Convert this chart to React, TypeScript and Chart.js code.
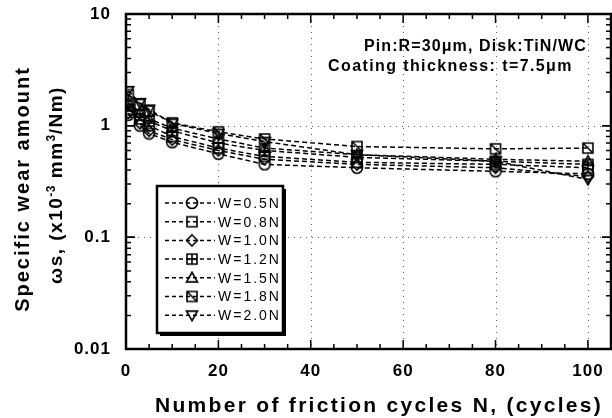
import React, { useEffect, useRef } from "react";
import { Chart, registerables } from "chart.js";
Chart.register(...registerables);

const cycles = [0.5, 3, 5, 10, 20, 30, 50, 80, 100];
const w05 = [1.25, 1.0, 0.85, 0.71, 0.56, 0.45, 0.42, 0.39, 0.37];
const w08 = [1.4, 1.15, 1.0, 0.8, 0.63, 0.53, 0.47, 0.45, 0.42];
const w10 = [1.3, 1.05, 0.9, 0.75, 0.6, 0.5, 0.45, 0.42, 0.35];
const w12 = [1.5, 1.25, 1.1, 0.9, 0.7, 0.6, 0.52, 0.48, 0.45];
const w15 = [1.6, 1.3, 1.15, 0.95, 0.76, 0.63, 0.55, 0.5, 0.48];
const w18 = [1.9, 1.55, 1.35, 1.06, 0.88, 0.76, 0.65, 0.62, 0.63];
const w20 = [2.05, 1.6, 1.4, 1.05, 0.85, 0.72, 0.55, 0.48, 0.33];
const seriesValues = [w05, w08, w10, w12, w15, w18, w20];
const seriesLabels = ["W=0.5N", "W=0.8N", "W=1.0N", "W=1.2N", "W=1.5N", "W=1.8N", "W=2.0N"];
const markerKinds = ["circle", "square", "diamond", "plusSquare", "triangle", "diagSquare", "downTriangle"];
const yTickValues = [0.01, 0.1, 1, 10];
const yTickLabels = ["0.01", "0.1", "1", "10"];
const xTickValues = [0, 20, 40, 60, 80, 100];
const yTitle1 = "Specific wear amount";
const xTitle = "Number of friction cycles N, (cycles)";
const note1 = "Pin:R=30\u03bcm, Disk:TiN/WC";
const note2 = "Coating thickness: t=7.5\u03bcm";

const FONT = "'Liberation Sans', Arial, sans-serif";

function makeMarker(kind: string, size = 14): HTMLCanvasElement {
  const c = document.createElement("canvas");
  c.width = size;
  c.height = size;
  const g = c.getContext("2d")!;
  g.strokeStyle = "#000";
  g.lineWidth = 1.6;
  const m = size / 2;
  const r = size / 2 - 1.5;
  g.beginPath();
  if (kind === "circle") {
    g.arc(m, m, r, 0, Math.PI * 2);
  } else if (kind === "square") {
    g.rect(m - r + 0.5, m - r + 0.5, 2 * r - 1, 2 * r - 1);
  } else if (kind === "diamond") {
    g.moveTo(m, m - r);
    g.lineTo(m + r, m);
    g.lineTo(m, m + r);
    g.lineTo(m - r, m);
    g.closePath();
  } else if (kind === "plusSquare") {
    g.rect(m - r + 0.5, m - r + 0.5, 2 * r - 1, 2 * r - 1);
    g.moveTo(m, m - r + 0.5);
    g.lineTo(m, m + r - 0.5);
    g.moveTo(m - r + 0.5, m);
    g.lineTo(m + r - 0.5, m);
  } else if (kind === "triangle") {
    g.moveTo(m, m - r);
    g.lineTo(m + r, m + r * 0.75);
    g.lineTo(m - r, m + r * 0.75);
    g.closePath();
  } else if (kind === "diagSquare") {
    g.rect(m - r + 0.5, m - r + 0.5, 2 * r - 1, 2 * r - 1);
    g.moveTo(m - r + 0.5, m - r + 0.5);
    g.lineTo(m + r - 0.5, m + r - 0.5);
  } else {
    g.moveTo(m, m + r);
    g.lineTo(m + r, m - r * 0.75);
    g.lineTo(m - r, m - r * 0.75);
    g.closePath();
  }
  g.stroke();
  return c;
}

function drawSpaced(ctx: CanvasRenderingContext2D, text: string, x: number, y: number, spacing: number) {
  (ctx as any).letterSpacing = spacing + "px";
  ctx.fillText(text, x, y);
  return ctx.measureText(text).width;
}

export default function App() {
  const ref = useRef<HTMLCanvasElement>(null);
  useEffect(() => {
    const markers = markerKinds.map((k) => makeMarker(k));
    const decor = {
      id: "decor",
      beforeDraw(chart: any) {
        (chart.ctx as any).letterSpacing = "1px";
      },
      beforeDatasetsDraw(chart: any) {
        const { ctx, chartArea: a, scales } = chart;
        ctx.save();
        ctx.strokeStyle = "#666";
        ctx.lineWidth = 1;
        ctx.setLineDash([1, 5]);
        for (const v of xTickValues.slice(1)) {
          const px = Math.round(scales.x.getPixelForValue(v)) + 0.5;
          ctx.beginPath();
          ctx.moveTo(px, a.top);
          ctx.lineTo(px, a.bottom);
          ctx.stroke();
        }
        for (const v of [0.1, 1]) {
          const py = Math.round(scales.y.getPixelForValue(v)) + 0.5;
          ctx.beginPath();
          ctx.moveTo(a.left, py);
          ctx.lineTo(a.right, py);
          ctx.stroke();
        }
        ctx.restore();
      },
      afterDraw(chart: any) {
        const { ctx, chartArea: a, scales } = chart;
        ctx.save();
        ctx.setLineDash([]);
        ctx.strokeStyle = "#000";
        ctx.lineWidth = 1.5;
        for (let v = 0; v <= 105; v += 5) {
          const px = scales.x.getPixelForValue(v);
          const len = v % 20 === 0 ? 9 : 5;
          ctx.beginPath();
          ctx.moveTo(px, a.bottom);
          ctx.lineTo(px, a.bottom - len);
          ctx.moveTo(px, a.top);
          ctx.lineTo(px, a.top + len);
          ctx.stroke();
        }
        for (let d = 0.01; d < 10; d *= 10) {
          for (let k = 1; k <= 10; k++) {
            const v = d * k;
            const py = scales.y.getPixelForValue(v);
            const len = k === 1 || k === 10 ? 9 : 5;
            ctx.beginPath();
            ctx.moveTo(a.left, py);
            ctx.lineTo(a.left + len, py);
            ctx.moveTo(a.right, py);
            ctx.lineTo(a.right - len, py);
            ctx.stroke();
          }
        }
        ctx.lineWidth = 2.5;
        ctx.strokeRect(a.left, a.top, a.right - a.left, a.bottom - a.top);

        ctx.fillStyle = "#000";
        ctx.textBaseline = "alphabetic";
        ctx.textAlign = "left";
        ctx.font = `bold 16px ${FONT}`;
        drawSpaced(ctx, note1, 364, 51, 1.1);
        drawSpaced(ctx, note2, 328, 71, 1.4);

        ctx.font = `bold 21px ${FONT}`;
        drawSpaced(ctx, xTitle, 155, 412, 2.3);

        ctx.save();
        ctx.rotate(-Math.PI / 2);
        ctx.font = `bold 20px ${FONT}`;
        (ctx as any).letterSpacing = "2px";
        const w1 = ctx.measureText(yTitle1).width;
        ctx.fillText(yTitle1, -(189 + w1 / 2), 29);
        const parts: [string, boolean][] = [
          ["\u03c9s, (x10", false],
          ["-3", true],
          [" mm", false],
          ["3", true],
          ["/Nm)", false],
        ];
        let total = 0;
        for (const [t, sup] of parts) {
          ctx.font = sup ? `bold 12px ${FONT}` : `bold 19px ${FONT}`;
          (ctx as any).letterSpacing = sup ? "0.5px" : "1.5px";
          total += ctx.measureText(t).width;
        }
        let cx = -(185 + total / 2);
        for (const [t, sup] of parts) {
          ctx.font = sup ? `bold 12px ${FONT}` : `bold 19px ${FONT}`;
          (ctx as any).letterSpacing = sup ? "0.5px" : "1.5px";
          ctx.fillText(t, cx, sup ? 55 : 62);
          cx += ctx.measureText(t).width;
        }
        ctx.restore();

        const bx = 157, by = 186, bw = 126, bh = 147;
        ctx.fillStyle = "#000";
        ctx.fillRect(bx + 3, by + 3, bw, bh);
        ctx.fillStyle = "#fff";
        ctx.fillRect(bx, by, bw, bh);
        ctx.lineWidth = 2.5;
        ctx.strokeRect(bx, by, bw, bh);
        ctx.font = `14px ${FONT}`;
        ctx.textBaseline = "middle";
        ctx.fillStyle = "#000";
        for (let i = 0; i < seriesLabels.length; i++) {
          const y = 203 + i * 18.7;
          ctx.lineWidth = 1.5;
          ctx.setLineDash([4, 3]);
          ctx.beginPath();
          ctx.moveTo(165, y);
          ctx.lineTo(215, y);
          ctx.stroke();
          ctx.setLineDash([]);
          const mk = markers[i];
          ctx.drawImage(mk, 192 - mk.width / 2, y - mk.height / 2);
          drawSpaced(ctx, seriesLabels[i], 218, y + 1, 2);
        }
        ctx.restore();
      },
    };

    const chart = new Chart(ref.current!, {
      type: "line",
      data: {
        datasets: seriesValues.map((vals, i) => ({
          label: seriesLabels[i],
          data: cycles.map((c, j) => ({ x: c, y: vals[j] })),
          borderColor: "#000",
          backgroundColor: "transparent",
          borderWidth: 1.5,
          borderDash: [5, 3],
          pointStyle: markers[i] as any,
          pointRadius: 6,
          fill: false,
          tension: 0,
        })),
      },
      options: {
        animation: false,
        responsive: false,
        maintainAspectRatio: false,
        layout: { autoPadding: false, padding: { top: 14, right: 1, left: 0, bottom: 0 } },
        plugins: { legend: { display: false }, tooltip: { enabled: false } },
        scales: {
          x: {
            type: "linear",
            min: 0,
            max: 105,
            grid: { display: false, drawTicks: false },
            border: { display: false },
            afterBuildTicks: (s: any) => {
              s.ticks = xTickValues.map((v) => ({ value: v }));
            },
            afterFit: (s: any) => {
              s.height = 69;
              s.paddingLeft = 0;
              s.paddingRight = 0;
            },
            ticks: {
              color: "#000",
              padding: 12,
              maxRotation: 0,
              font: { family: FONT, size: 17, weight: "bold" },
              callback: (v: any) => String(v),
            },
          },
          y: {
            type: "logarithmic",
            min: 0.01,
            max: 10,
            grid: { display: false, drawTicks: false },
            border: { display: false },
            afterBuildTicks: (s: any) => {
              s.ticks = yTickValues.map((v) => ({ value: v }));
            },
            afterFit: (s: any) => {
              s.width = 126;
              s.paddingTop = 0;
              s.paddingBottom = 0;
            },
            ticks: {
              color: "#000",
              padding: 15,
              font: { family: FONT, size: 17, weight: "bold" },
              callback: (v: any) => {
                const i = yTickValues.indexOf(Number(v));
                return i >= 0 ? yTickLabels[i] : "";
              },
            },
          },
        },
      },
      plugins: [decor],
    });
    return () => chart.destroy();
  }, []);
  return (
    <div style={{ position: "fixed", left: 0, top: 0, width: 612, height: 418, background: "#fff" }}>
      <canvas ref={ref} width={612} height={418} style={{ width: 612, height: 418 }} />
    </div>
  );
}
